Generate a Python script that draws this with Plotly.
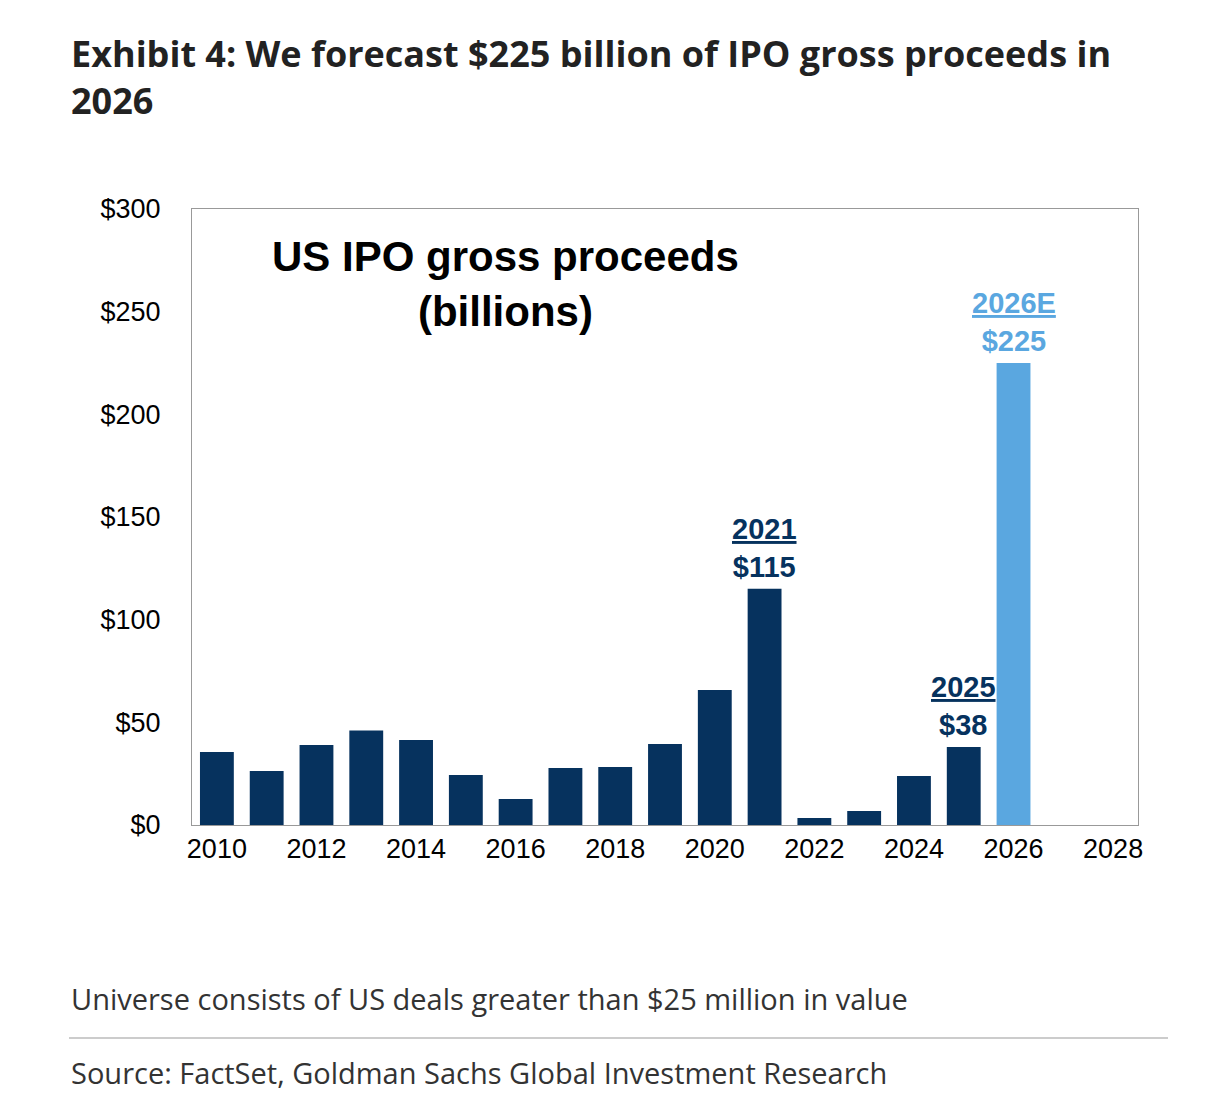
import plotly.graph_objects as go

years = list(range(2010, 2027))
proceeds = [35.5, 26.3, 39, 46, 41.4, 24.4, 12.7, 27.8, 28.3, 39.5, 65.8, 115, 3.4, 6.8, 23.9, 38, 225]
navy = "#06325e"
light = "#5aa7e0"
colors = [navy] * 16 + [light]
tick_vals = [0, 50, 100, 150, 200, 250, 300]
tick_text = ["$0", "$50", "$100", "$150", "$200", "$250", "$300"]

fig = go.Figure(go.Bar(x=years, y=proceeds, marker_color=colors, width=0.68,
                       marker_line_width=0))

fig.update_layout(
    width=1208, height=1116,
    margin=dict(l=184, r=78, t=201, b=299),
    plot_bgcolor="white", paper_bgcolor="white",
    showlegend=False,
    font=dict(family="Liberation Sans, Arial", color="black", size=27),
)
fig.update_xaxes(range=[2009.5, 2028.5], tickvals=list(range(2010, 2029, 2)),
                 showgrid=False, showline=True, linecolor="#999", mirror=True,
                 ticks="", tickfont=dict(size=27))
fig.update_yaxes(range=[0, 300], tickvals=tick_vals, ticktext=tick_text,
                 showgrid=False, showline=True, linecolor="#999", mirror=True,
                 ticks="", tickfont=dict(size=27), ticklabelstandoff=25)

hdr = "Open Sans, Noto Sans, sans-serif"
fig.add_annotation(xref="paper", yref="paper", x=-123/946, y=1 + 182/616, xanchor="left", yanchor="top",
                   text="<b>Exhibit 4: We forecast $225 billion of IPO gross proceeds in<br>2026</b>",
                   showarrow=False, align="left",
                   font=dict(family=hdr, size=36, color="#222"))
fig.add_annotation(xref="paper", yref="paper", x=313/946, y=1 - 22/616, xanchor="center", yanchor="top",
                   text="<b>US IPO gross proceeds<br>(billions)</b>", showarrow=False,
                   font=dict(size=42, color="black"))
for yr, val, col, lab in [(2021, 115, navy, "2021"), (2025, 38, navy, "2025"), (2026, 225, light, "2026E")]:
    fig.add_annotation(x=yr, y=val, yanchor="bottom", yshift=4, showarrow=False,
                       text=f"<b><u>{lab}</u><br>${val}</b>",
                       font=dict(size=29, color=col))
fig.add_annotation(xref="paper", yref="paper", x=-123/946, y=-173/616, xanchor="left", yanchor="middle",
                   text="Universe consists of US deals greater than $25 million in value",
                   showarrow=False, font=dict(family=hdr, size=29, color="#333"))
fig.add_annotation(xref="paper", yref="paper", x=-123/946, y=-247/616, xanchor="left", yanchor="middle",
                   text="Source: FactSet, Goldman Sachs Global Investment Research",
                   showarrow=False, font=dict(family=hdr, size=29, color="#333"))
for yy in [1 + 202/616, -213/616]:
    fig.add_shape(type="line", xref="paper", yref="paper", x0=-123/946, x1=1 + 30/946,
                  y0=yy, y1=yy, line=dict(color="#bbb", width=1.5))

fig.write_html("out.html")
